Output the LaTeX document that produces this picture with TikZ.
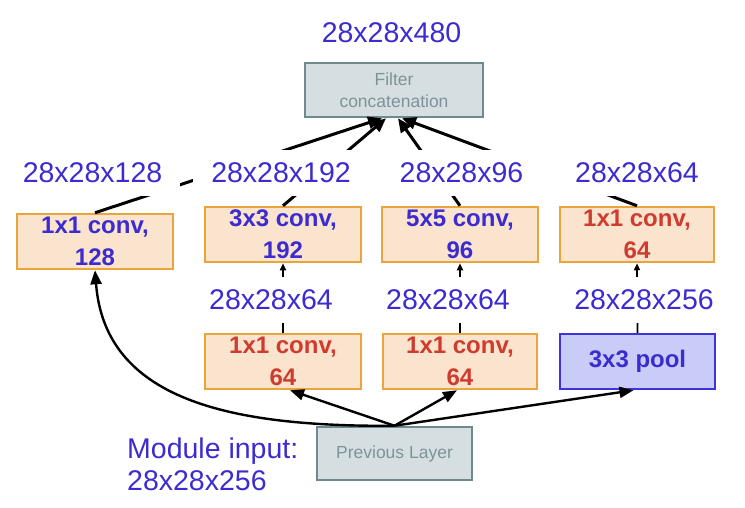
\documentclass[tikz,border=0pt]{standalone}
\usepackage{fontspec}
\setmainfont{Liberation Sans}
\usetikzlibrary{arrows.meta,calc}
\definecolor{lblblue}{HTML}{3B2BD0}
\definecolor{lblred}{HTML}{CF3B2E}
\definecolor{boxorange}{HTML}{E9A43C}
\definecolor{boxfill}{HTML}{FAE4CD}
\definecolor{poolborder}{HTML}{3F33E0}
\definecolor{poolfill}{HTML}{C8CCF6}
\definecolor{grayborder}{HTML}{6F8990}
\definecolor{grayfill}{HTML}{D5DFE2}
\definecolor{graytext}{HTML}{7F9298}
\begin{document}
\begin{tikzpicture}[x=1pt,y=-1pt,
  convbox/.style={draw=boxorange, fill=boxfill, line width=2.5pt, minimum width=156pt, minimum height=55pt, inner sep=0pt, align=center, font=\bfseries\fontsize{24}{32}\selectfont},
  bluet/.style={text=lblblue},
  redt/.style={text=lblred},
  poolbox/.style={convbox, draw=poolborder, fill=poolfill},
  graybox/.style={draw=grayborder, fill=grayfill, line width=2.5pt, text=graytext, font=\fontsize{17.5}{22}\selectfont, align=center, inner sep=0pt},
  dimlabel/.style={fill=white, text=lblblue, font=\fontsize{28.5}{32}\selectfont, inner xsep=18pt, inner ysep=0pt, minimum height=46pt},
  bigarrow/.style={line width=3pt, -{Triangle[length=14pt,width=12pt]}},
  midarrow/.style={line width=2.4pt, -{Triangle[length=14pt,width=11pt]}},
  smallarrow/.style={line width=1.8pt, -{Triangle[length=7pt,width=6pt]}}
]
\useasboundingbox (0,0) rectangle (745,507);

% boxes
\node[graybox, minimum width=178pt, minimum height=54pt] (concat) at (394,90) {Filter\\concatenation};
\node[convbox, bluet] (b1) at (95,241.5) {1x1 conv,\\128};
\node[convbox, bluet] (b2) at (283,234.5) {3x3 conv,\\192};
\node[convbox, bluet] (b3) at (460,234.5) {5x5 conv,\\96};
\node[convbox, redt, minimum width=154pt] (b4) at (637,234.5) {1x1 conv,\\64};
\node[convbox, redt] (b5) at (283,361.5) {1x1 conv,\\64};
\node[convbox, redt, minimum width=154pt] (b6) at (460,361.5) {1x1 conv,\\64};
\node[poolbox, bluet, minimum width=155pt] (pool) at (637.5,361.5) {3x3 pool};
\node[graybox, minimum width=155pt, minimum height=53pt] (prev) at (394.5,453.5) {Previous Layer};

% connectors
\draw[bigarrow] (b1.north) -- ($(concat.south)+(-12,0)$);
\draw[bigarrow] (b2.north) -- ($(concat.south)+(-8,0)$);
\draw[bigarrow] (b3.north) -- ($(concat.south)+(4,0)$);
\draw[bigarrow] (b4.north) -- ($(concat.south)+(8,0)$);
\draw[smallarrow] (b5.north) -- (b2.south);
\draw[smallarrow] (b6.north) -- (b3.south);
\draw[smallarrow] (pool.north) -- (b4.south);
\draw[midarrow] (prev.north) .. controls (230,427) and (105,400) .. (b1.south);
\draw[midarrow] (prev.north) -- ($(b5.south)+(7,0)$);
\draw[midarrow] (prev.north) -- ($(b6.south)+(-3,0)$);
\draw[midarrow] (prev.north) -- ($(pool.south)+(-4,0)$);

% labels
\node[dimlabel, fill=none] (lout) at (391.5,33) {28x28x480};
\node[dimlabel] (l1) at (92.5,173) {28x28x128};
\node[dimlabel] (l2) at (281,173) {28x28x192};
\node[dimlabel, inner xsep=26pt] (l3) at (461.5,173) {28x28x96};
\node[dimlabel, inner xsep=26pt] (l4) at (637,173) {28x28x64};
\node[dimlabel] (m1) at (271,300) {28x28x64};
\node[dimlabel] (m2) at (448,300) {28x28x64};
\node[dimlabel] (m3) at (644,300) {28x28x256};
\node[text=lblblue, font=\fontsize{28.5}{32}\selectfont, align=left, anchor=west, inner sep=0pt] (modin) at (127,464) {Module input:\\28x28x256};
\end{tikzpicture}
\end{document}
